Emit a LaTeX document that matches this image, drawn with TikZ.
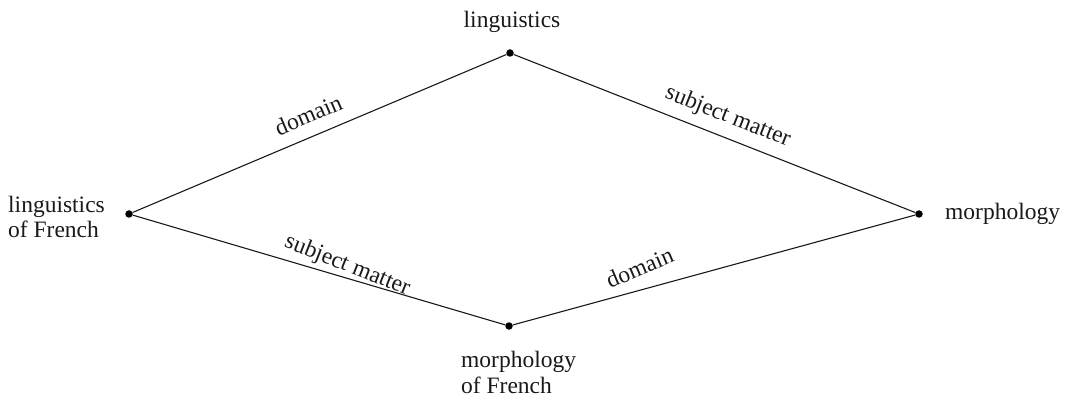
\documentclass[tikz,border=0pt]{standalone}
\usepackage{fontspec}
\setmainfont{Liberation Serif}
\begin{document}
\begin{tikzpicture}[x=1pt,y=1pt,
  dot/.style={circle,fill=black,inner sep=0pt,minimum size=7.5pt},
  lbl/.style={inner sep=0pt,font=\fontsize{23.5}{25.5}\selectfont,text=black!90},
  elbl/.style={inner sep=0pt,font=\fontsize{23.5}{25.5}\selectfont,text=black!90,anchor=center},
  conn/.style={line width=1.1pt,black!90}]
\useasboundingbox (0,0) rectangle (1066,394);
\node[dot] (T) at (510,341) {};
\node[dot] (L) at (129,180) {};
\node[dot] (R) at (919,180) {};
\node[dot] (B) at (509,68) {};
\node[lbl,anchor=base] (tl) at (512,366) {linguistics};
\node[lbl,anchor=west,align=left] (ll) at (8,177) {linguistics\\of French};
\node[lbl,anchor=base west] (rl) at (945,174) {morphology};
\node[lbl,anchor=south west,align=left] (bl) at (461,0.3) {morphology\\of French};
\draw[conn] (L) -- node[elbl,pos=0.47,yshift=23.3pt,rotate=22.9] {domain} (T);
\draw[conn] (T) -- node[elbl,pos=0.533,yshift=21.8pt,rotate=-21.5] {subject matter} (R);
\draw[conn] (L) -- node[elbl,pos=0.576,yshift=12.5pt,rotate=-21.5] {subject matter} (B);
\draw[conn] (B) -- node[elbl,pos=0.315,yshift=22.7pt,rotate=22.9] {domain} (R);
\end{tikzpicture}
\end{document}
